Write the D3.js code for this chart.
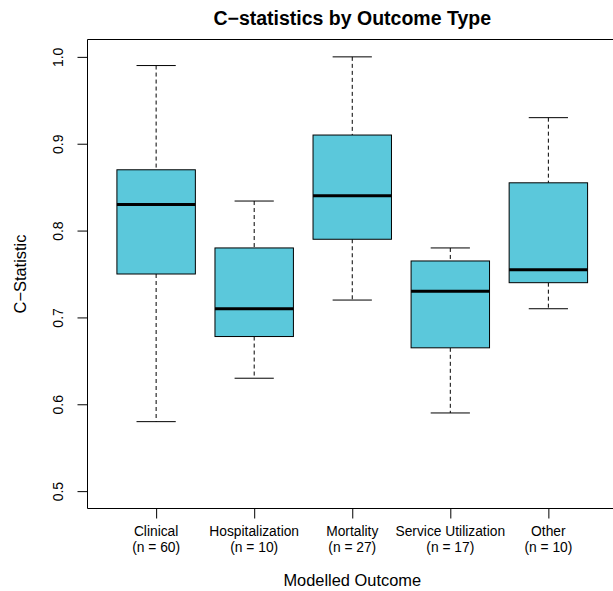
<!DOCTYPE html>
<html>
<head>
<meta charset="utf-8">
<script src="https://cdn.jsdelivr.net/npm/d3@7"></script>
<style>
  body { margin: 0; background: #fff; overflow: hidden; }
  text { font-family: "Liberation Sans", Arial, sans-serif; fill: #000; }
</style>
</head>
<body>
<div id="chart"></div>
<script>
// Donnees
const categories = ["Clinical", "Hospitalization", "Mortality", "Service Utilization", "Other"];
const counts = [60, 10, 27, 17, 10];
const whiskerLow = [0.58, 0.63, 0.72, 0.59, 0.71];
const q1 = [0.75, 0.678, 0.79, 0.665, 0.74];
const medians = [0.83, 0.71, 0.84, 0.73, 0.755];
const q3 = [0.87, 0.78, 0.91, 0.765, 0.855];
const whiskerHigh = [0.99, 0.834, 1.0, 0.78, 0.93];
const yTicks = [0.5, 0.6, 0.7, 0.8, 0.9, 1.0];

const W = 613, H = 591;
const plot = {left: 87.5, top: 39.5, right: 617, bottom: 508.5};

const data = categories.map((c, i) => ({
  name: c, n: counts[i], pos: i + 1,
  lo: whiskerLow[i], q1: q1[i], med: medians[i], q3: q3[i], hi: whiskerHigh[i]
}));

const svg = d3.select("#chart").append("svg")
  .attr("width", W).attr("height", H);

// echelles (comme R : xlim 0.5..5.5 etendu de 4%, ylim 0.5..1 etendu de 4%)
const x = d3.scaleLinear().domain([0.3, 5.7]).range([plot.left, plot.right]);
const y = d3.scaleLinear().domain([0.48, 1.02]).range([plot.bottom, plot.top]);

const boxW = x(1.8) - x(1);     // largeur 0.8 unite
const capW = boxW / 2;

// axe Y
const gy = svg.append("g")
  .attr("transform", `translate(${plot.left},0)`)
  .call(d3.axisLeft(y).tickValues(yTicks).tickSize(10).tickFormat(d3.format(".1f")));
gy.select(".domain").remove();
gy.selectAll(".tick line").attr("stroke", "#000");
gy.selectAll(".tick text")
  .attr("x", null).attr("dy", null)
  .attr("text-anchor", "middle")
  .attr("transform", "translate(-25,0) rotate(-90)")
  .attr("font-size", 14);

// axe X
const gx = svg.append("g")
  .attr("transform", `translate(0,${plot.bottom})`)
  .call(d3.axisBottom(x).tickValues(data.map(d => d.pos)).tickSize(10).tickFormat(""));
gx.select(".domain").remove();
gx.selectAll(".tick line").attr("stroke", "#000");

const labels = svg.append("g").selectAll("text")
  .data(data).join("text")
  .attr("text-anchor", "middle")
  .attr("font-size", 13.8);
labels.append("tspan").attr("x", d => x(d.pos)).attr("y", 535.5).text(d => d.name);
labels.append("tspan").attr("x", d => x(d.pos)).attr("y", 551.5).text(d => `(n = ${d.n})`);

// boites
const g = svg.append("g");
const box = g.selectAll("g.box").data(data).join("g").attr("class", "box");

box.append("line")
  .attr("x1", d => x(d.pos)).attr("x2", d => x(d.pos))
  .attr("y1", d => y(d.hi)).attr("y2", d => y(d.q3))
  .attr("stroke", "#000").attr("stroke-dasharray", "4,3");
box.append("line")
  .attr("x1", d => x(d.pos)).attr("x2", d => x(d.pos))
  .attr("y1", d => y(d.q1)).attr("y2", d => y(d.lo))
  .attr("stroke", "#000").attr("stroke-dasharray", "4,3");
box.append("line")
  .attr("x1", d => x(d.pos) - capW / 2).attr("x2", d => x(d.pos) + capW / 2)
  .attr("y1", d => y(d.hi)).attr("y2", d => y(d.hi))
  .attr("stroke", "#000");
box.append("line")
  .attr("x1", d => x(d.pos) - capW / 2).attr("x2", d => x(d.pos) + capW / 2)
  .attr("y1", d => y(d.lo)).attr("y2", d => y(d.lo))
  .attr("stroke", "#000");
box.append("rect")
  .attr("x", d => x(d.pos) - boxW / 2)
  .attr("width", boxW)
  .attr("y", d => y(d.q3))
  .attr("height", d => y(d.q1) - y(d.q3))
  .attr("fill", "#5bc8db")
  .attr("stroke", "#000");
box.append("line")
  .attr("x1", d => x(d.pos) - boxW / 2).attr("x2", d => x(d.pos) + boxW / 2)
  .attr("y1", d => y(d.med)).attr("y2", d => y(d.med))
  .attr("stroke", "#000").attr("stroke-width", 3);

// cadre (le bord droit est hors de l'image)
svg.append("path")
  .attr("d", `M${W + 5},${plot.top}H${plot.left}V${plot.bottom}H${W + 5}`)
  .attr("fill", "none").attr("stroke", "#000");

// titres
svg.append("text")
  .attr("x", (plot.left + plot.right) / 2).attr("y", 25)
  .attr("text-anchor", "middle")
  .attr("font-size", 19.5).attr("font-weight", "bold")
  .text("C\u2212statistics by Outcome Type");

svg.append("text")
  .attr("x", (plot.left + plot.right) / 2).attr("y", 586)
  .attr("text-anchor", "middle")
  .attr("font-size", 16.4)
  .text("Modelled Outcome");

svg.append("text")
  .attr("transform", `translate(25.5,${(plot.top + plot.bottom) / 2}) rotate(-90)`)
  .attr("text-anchor", "middle")
  .attr("font-size", 16.4)
  .text("C\u2212Statistic");
</script>
</body>
</html>
